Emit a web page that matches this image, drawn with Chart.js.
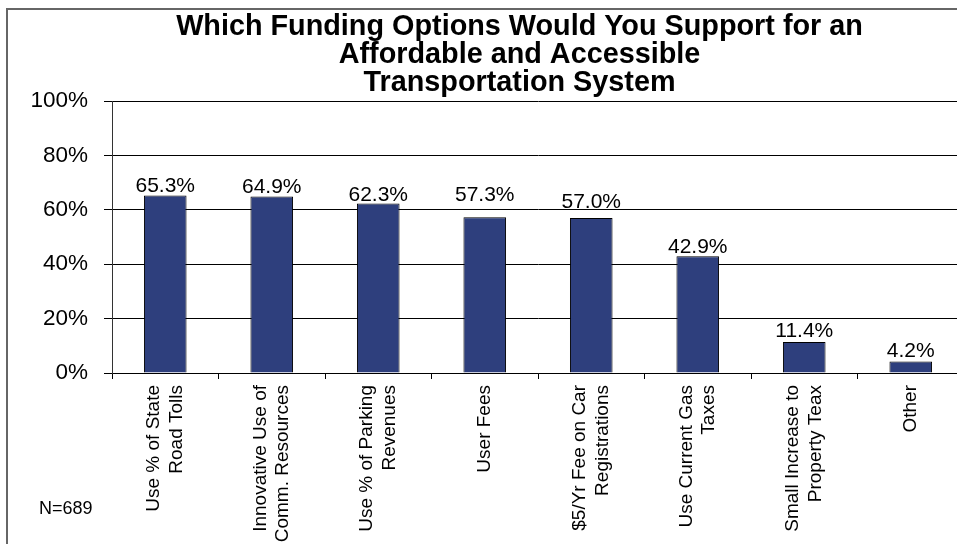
<!DOCTYPE html>
<html>
<head>
<meta charset="utf-8">
<title>Funding Options</title>
<script src="https://cdn.jsdelivr.net/npm/chart.js@4.4.1/dist/chart.umd.min.js"></script>
<style>
  html, body { margin: 0; padding: 0; background: #fff; overflow: hidden; }
  #frame {
    position: absolute; left: 6px; top: 8px; width: 1100px; height: 600px;
    border-top: 2px solid #666; border-left: 2px solid #666;
  }
  #chart { position: absolute; left: 8px; top: 10px; }
</style>
</head>
<body>
<div id="frame"></div>
<canvas id="chart" width="1023" height="534"></canvas>
<script>
// Survey results: share of respondents supporting each funding option
const categories = [
    ['Use % of State', 'Road Tolls'],
    ['Innovative Use of', 'Comm. Resources'],
    ['Use % of Parking', 'Revenues'],
    'User Fees',
    ['$5/Yr Fee on Car', 'Registrations'],
    ['Use Current Gas', 'Taxes'],
    ['Small Increase to', 'Property Teax'],
    'Other'
];
const supportPct = [65.3, 64.9, 62.3, 57.3, 57.0, 42.9, 11.4, 4.2];
const yTicks = [0, 20, 40, 60, 80, 100];
const titleLines = [
    'Which Funding Options Would You Support for an',
    'Affordable and Accessible',
    'Transportation System'
];
const sampleNote = 'N=689';

const FONT = '"Liberation Sans", Arial, sans-serif';

// Percent value written above each bar; a few labels sit higher to clear the gridline
const valueLabels = {
    id: 'valueLabels',
    afterDatasetsDraw(chart, args, opts) {
        const ctx = chart.ctx;
        const meta = chart.getDatasetMeta(0);
        ctx.save();
        ctx.font = '21px ' + FONT;
        ctx.fillStyle = '#000';
        ctx.textAlign = 'center';
        ctx.textBaseline = 'alphabetic';
        meta.data.forEach((bar, i) => {
            const lift = (opts.lift && opts.lift[i]) || 3;
            ctx.fillText(supportPct[i].toFixed(1) + '%', bar.x, bar.y - lift);
        });
        ctx.restore();
    }
};

// Sample size in the lower left corner
const sampleSize = {
    id: 'sampleSize',
    afterDraw(chart) {
        const ctx = chart.ctx;
        ctx.save();
        ctx.font = '18px ' + FONT;
        ctx.fillStyle = '#000';
        ctx.textAlign = 'left';
        ctx.textBaseline = 'alphabetic';
        ctx.fillText(sampleNote, 31, 504);
        ctx.restore();
    }
};

// Center the lines of rotated two-line category labels on their tick
const centerTickLines = {
    id: 'centerTickLines',
    beforeDraw(chart) {
        chart.scales.x.getLabelItems().forEach(item => {
            const n = Array.isArray(item.label) ? item.label.length : 1;
            if (n > 1 && !item.centered) {
                item.textOffset -= (n - 1) * item.font.lineHeight / 2;
                item.centered = true;
            }
        });
    }
};

new Chart(document.getElementById('chart'), {
    type: 'bar',
    data: {
        labels: categories,
        datasets: [{
            data: supportPct,
            backgroundColor: '#2E3F7D',
            borderColor: '#000',
            borderWidth: 1,
            barPercentage: 0.4,
            categoryPercentage: 1.0
        }]
    },
    options: {
        responsive: false,
        animation: false,
        layout: { padding: 0 },
        plugins: {
            legend: { display: false },
            tooltip: { enabled: false },
            title: {
                display: true,
                text: titleLines,
                color: '#000',
                font: { family: FONT, size: 28.8, weight: 'bold', lineHeight: 0.983 },
                padding: { top: 2.6, bottom: 3.5 }
            },
            valueLabels: { lift: [3, 3, 3, 16, 10, 3, 5, 5] }
        },
        scales: {
            x: {
                ticks: {
                    autoSkip: false,
                    minRotation: 90,
                    maxRotation: 90,
                    color: '#000',
                    font: { family: FONT, size: 19, lineHeight: 1.16 },
                    padding: 6
                },
                grid: {
                    drawOnChartArea: false,
                    drawTicks: true,
                    tickLength: 6,
                    color: '#000',
                    offset: true
                },
                border: { color: '#000', width: 1 },
                afterFit(scale) { scale.height = 171; }
            },
            y: {
                min: 0,
                max: 100,
                afterBuildTicks(scale) {
                    scale.ticks = yTicks.map(v => ({ value: v }));
                },
                ticks: {
                    callback: v => v + '%',
                    color: '#000',
                    font: { family: FONT, size: 22.5 },
                    padding: 16
                },
                grid: { color: '#000', lineWidth: 1, tickLength: 8 },
                border: { color: '#333', width: 1 },
                afterFit(scale) { scale.width = 104; }
            },
            // empty right-hand gutter; the plot runs past the frame edge
            gutter: {
                type: 'linear',
                position: 'right',
                grid: { display: false },
                ticks: { display: false },
                border: { display: false },
                afterFit(scale) { scale.width = 67; }
            }
        }
    },
    plugins: [valueLabels, sampleSize, centerTickLines]
});
</script>
</body>
</html>
